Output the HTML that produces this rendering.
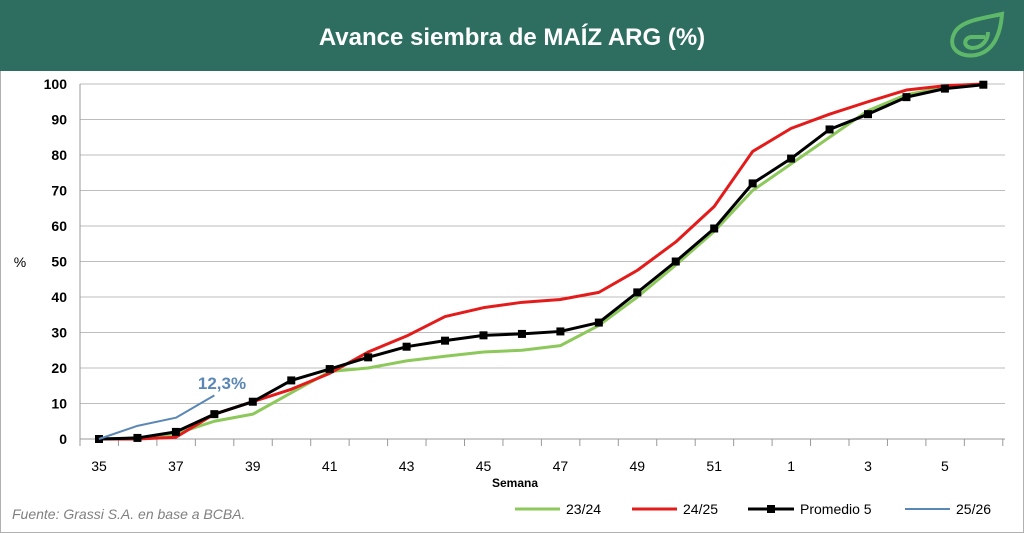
<!DOCTYPE html>
<html><head><meta charset="utf-8"><style>
body{margin:0;background:#fff;}
svg{display:block;font-family:"Liberation Sans",sans-serif;}
</style></head><body>
<svg width="1024" height="533" viewBox="0 0 1024 533" xmlns="http://www.w3.org/2000/svg">
<rect x="0.5" y="0.5" width="1023" height="532" fill="#fff" stroke="#b0b0b0"/>
<rect x="0" y="0" width="1024" height="71" fill="#2d6e60"/>
<text x="512" y="45" text-anchor="middle" fill="#fff" font-size="24" font-weight="bold">Avance siembra de MAÍZ ARG (%)</text>
<g fill="none" stroke="#5fb86a" stroke-width="4">
<path d="M1002 14 C985 18 962 20 955 32 C946 48 960 58 976 55 C990 52 1000 40 1002 14 Z"/>
<path d="M985 37 L972 37 C964 37 962 47 972 48 C982 48 988 40 988 32"/>
</g>
<g id="grid" stroke="#bdbdbd" stroke-width="1">
</g>
<g id="ylab" font-size="14" font-weight="bold" fill="#000" text-anchor="end"></g>
<text x="20" y="267" font-size="14" text-anchor="middle">%</text>
<line x1="80" y1="84" x2="80" y2="439" stroke="#999"/>
<line x1="80" y1="439" x2="1005" y2="439" stroke="#999"/>
<g id="ticks" stroke="#999"></g>
<g id="xlab" font-size="14" text-anchor="middle"></g>
<text x="515" y="487" font-size="12" font-weight="bold" text-anchor="middle">Semana</text>
<g id="series" fill="none" stroke-linejoin="round"></g>
<text x="222" y="389" font-size="17" font-weight="bold" fill="#5b87b7" text-anchor="middle">12,3%</text>
<text x="12" y="519" font-size="14" font-style="italic" fill="#808080">Fuente: Grassi S.A. en base a BCBA.</text>
<g font-size="14">
<line x1="515" y1="509" x2="560" y2="509" stroke="#8dc85a" stroke-width="3"/><text x="566" y="514">23/24</text>
<line x1="632" y1="509" x2="677" y2="509" stroke="#e31b1b" stroke-width="3"/><text x="683" y="514">24/25</text>
<line x1="748" y1="509" x2="794" y2="509" stroke="#000" stroke-width="3"/><rect x="767" y="505" width="8" height="8" fill="#000"/><text x="800" y="514">Promedio 5</text>
<line x1="905" y1="509" x2="950" y2="509" stroke="#5b87b7" stroke-width="2"/><text x="956" y="514">25/26</text>
</g>
<script>
(function(){
var ns="http://www.w3.org/2000/svg";
function el(p,t,a,txt){var e=document.createElementNS(ns,t);for(var k in a)e.setAttribute(k,a[k]);if(txt!=null)e.textContent=txt;document.getElementById(p).appendChild(e);return e;}
function Y(v){return 439-v*3.55;}
function X(i){return 99+i*38.45;}
for(var v=10;v<=100;v+=10)el("grid","line",{x1:80,x2:1005,y1:Y(v),y2:Y(v)});
for(var v=0;v<=100;v+=10)el("ylab","text",{x:67,y:Y(v)+5},v);
for(var i=0;i<=24;i++){var x=80+i*38.45;el("ticks","line",{x1:x,x2:x,y1:439,y2:446});}
var wk=[35,36,37,38,39,40,41,42,43,44,45,46,47,48,49,50,51,52,1,2,3,4,5,6];
for(var i=0;i<24;i+=2)el("xlab","text",{x:X(i),y:471},wk[i]);
var s1=[0,0.3,1.5,5,7,13,19,20,22,23.3,24.5,25,26.3,32,40,49,58.5,70,77.5,85,92.5,97,99,100];
var s2=[0,0,0.5,7,10.5,14,18.5,24.5,29,34.5,37,38.5,39.3,41.3,47.5,55.5,65.5,81,87.5,91.5,95,98.3,99.5,100];
var s3=[0,0.3,2,7,10.5,16.5,19.7,23,26,27.7,29.2,29.6,30.3,32.8,41.3,50,59.3,72,79,87.2,91.5,96.3,98.7,99.8];
var s4=[0,3.7,6,12.3];
function pts(a){return a.map(function(v,i){return X(i)+","+Y(v);}).join(" ");}
el("series","polyline",{points:pts(s1),stroke:"#8dc85a","stroke-width":3});
el("series","polyline",{points:pts(s2),stroke:"#e31b1b","stroke-width":3});
el("series","polyline",{points:pts(s3),stroke:"#000","stroke-width":3});
s3.forEach(function(v,i){el("series","rect",{x:X(i)-4,y:Y(v)-4,width:8,height:8,fill:"#000",stroke:"none"});});
el("series","polyline",{points:pts(s4),stroke:"#5b87b7","stroke-width":2});
})();
</script>
</svg>
</body></html>
